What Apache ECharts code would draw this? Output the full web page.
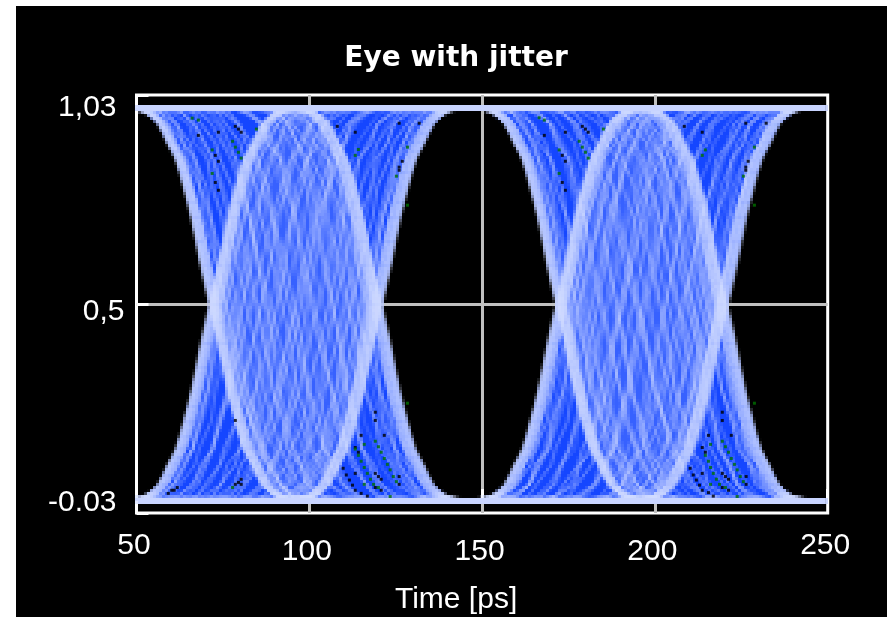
<!DOCTYPE html>
<html><head><meta charset="utf-8">
<style>html,body{margin:0;padding:0;background:#fff;overflow:hidden}
.layer{position:absolute;left:0;top:0;width:887px;height:617px}
#marks{width:888px;height:618px}
#marks canvas{image-rendering:pixelated !important}</style>
<script src="https://cdn.jsdelivr.net/npm/echarts@6/dist/echarts.min.js"></script>
</head><body>
<div id="base" class="layer"></div><div id="marks" class="layer"></div><div id="cells" class="layer"></div>
<script>
const titleText = 'Eye with jitter';
const xName = 'Time [ps]';
const xTicks = [50, 100, 150, 200, 250];
const yTicks = [-0.033, 0.5, 1.033];
const yLabels = ['-0.03', '0,5', '1,03'];

// edge shapes: time from the crossing (ps) for each level
const edgeTime = [-24.6,-19.1,-15,-12.2,-9.8,-7.5,-5.2,-2.5,0,2.5,5.2,7.5,9.8,12.2,15,19.1,24.6];
const edgeTimeNarrow = [-20.5,-16,-12.8,-10.4,-8.4,-6.4,-4.4,-2.1,0,2.1,4.4,6.4,8.4,10.4,12.8,16,20.5];
const edgeTimeWide = [-26,-21,-17,-14,-11.4,-8.8,-6,-2.9,0,2.9,6,8.8,11.4,14,17,21,26];
const edgeTimeNoisyA = [-25,-18.2,-15.8,-11.6,-10.4,-6.9,-5.6,-2.0,0.4,2.9,4.8,8.0,9.3,12.8,14.4,19.8,24];
const edgeTimeNoisyB = [-23.5,-19.9,-14.4,-12.9,-9.1,-8.0,-4.7,-3.0,-0.3,2.1,5.7,7.0,10.4,11.6,15.6,18.4,25.2];
const fallLevel = [1,0.99,0.96,0.91,0.87,0.8,0.72,0.6,0.5,0.4,0.28,0.2,0.13,0.09,0.04,0.01,0];
const riseLevel = [0,0.01,0.04,0.09,0.13,0.2,0.28,0.4,0.5,0.6,0.72,0.8,0.87,0.91,0.96,0.99,1];
const shapeOrder = [3,1,4,0,2,3,1,4,2,3,0,4];
const traceWeight = [0.9,0.55,0.8,1,0.45,0.7,0.95,0.6,1];

// estimated crossing times of the visible traces (ps)
const fallA = [71.2,71.5,71.8,72.2,72.5,72.9,73.3,73.8,74.4,75.1,75.9,76.4,77.1,78.9,79.6,81.8,83.9,84.5,87.2,88.0,88.7,91.6,93.9,94.4,95.1,98.2,100.7,101.4,103.9,106.1,106.8,108.9,110.6,111.1,113.2,114.4,115.7,116.3,117.1,117.7,118.2,118.7,119.2,119.6,120.0,120.4,120.8];
const riseA = [71.3,71.6,72.0,72.3,72.7,73.1,73.6,74.1,74.7,75.3,76.0,77.9,78.5,80.6,81.3,83.2,85.7,86.3,89.1,90.2,90.9,93.0,95.9,96.6,97.4,99.6,102.3,102.9,105.2,107.4,108.1,109.9,112.0,112.7,114.9,115.3,116.2,116.9,117.6,118.0,118.4,118.9,119.4,119.8,120.2,120.6,121.0];
const fallB = [171.5,171.8,172.1,172.5,172.8,173.2,173.6,174.1,174.7,175.4,176.2,176.7,177.5,179.2,180.0,182.1,184.3,184.8,187.5,188.3,189.0,191.9,194.2,194.7,195.4,198.5,201.0,201.7,204.2,206.4,207.1,209.2,210.9,211.4,213.4,214.6,215.9,216.3,217.0,217.6,218.2,218.7,219.2,219.6,220.0,220.4,220.8];
const riseB = [171.6,171.9,172.3,172.6,173.0,173.4,173.9,174.4,175.0,175.7,176.3,178.2,178.8,180.9,181.6,183.5,186.0,186.6,189.4,190.5,191.2,193.3,196.2,196.9,197.7,199.9,202.6,203.2,205.5,207.7,208.4,210.2,212.2,212.9,215.1,215.5,216.4,217.1,217.8,218.1,218.5,218.9,219.4,219.8,220.2,220.6,221.1];

// isolated low-count cells of the histogram [time ps, level]
const blackCells = [[78.6,.953],[79.5,.946],[80.3,.938],[73.7,.938],[67.9,.930],[72.8,.879],[73.7,.864],[72.8,.810],[73.7,.790],
[78.6,.203],[59.2,.017],[60.2,.025],[60.9,.025],[61.8,.032],[80.3,.053],[79.5,.045],[78.6,.040],[80.3,.040],
[168.0,.930],[174.1,.938],[179.0,.953],[179.9,.946],[180.7,.938],[173.2,.879],[174.1,.864],[173.2,.810],[174.1,.790],[208.5,.953],[213.7,.938],[226.3,.961],[232.2,.961],[227,.864],[226.3,.849],[226.3,.841],
[210.2,.081],[211.1,.064],[212,.051],[212.9,.038],[213.7,.025],[215.5,.019],[216.9,.010],[215.5,.165],[213.7,.134],[214.6,.122],[219.5,.224],[219.5,.203],[222.1,.165],[213.7,.068],[219.5,.068],[220.4,.060],[221.3,.053],[219.5,.032],[221.3,.025],[226.4,.060],[226.4,.040],
[119.1,.224],[119.1,.203],[115,.165],[121.7,.165],[113.3,.134],[114.2,.122],[109.8,.081],[110.7,.064],[111.6,.051],[112.5,.038],[113.3,.025],[115,.017],[116.8,.010],[113.3,.068],[119.1,.068],[120,.060],[120.8,.053],[119.1,.032],[120.8,.025],[126,.060],[126,.040],
[108.1,.953],[113.3,.938],[126,.961],[131.8,.961],[126.9,.864],[126,.849],[126,.841]];
const greenCells = [[66.1,.974],[67.9,.969],[84.7,.946],[77.8,.915],[78.6,.900],[79.5,.887],[80.3,.872],[71.9,.893],[71.9,.833],[77.8,.032],
[166.5,.975],[168,.969],[185.1,.946],[178.1,.915],[179,.900],[179.9,.887],[180.7,.872],[172.3,.893],[172.3,.833],[214.6,.893],[213.7,.879],[228.8,.900],[225.6,.826],[228.8,.752],
[228.8,.247],[216.1,.142],[219.5,.150],[220.4,.136],[221.3,.122],[222.1,.106],[223,.091],[223.8,.077],[224.7,.060],[225.6,.047],[215.5,.099],[214.6,.114],[216.1,.083],[216.9,.068],[217.8,.053],[218.7,.040],[220.4,.032],[216.1,.040],[223.8,.009],
[128.4,.247],[115.9,.142],[119.1,.150],[120,.136],[120.8,.122],[121.7,.106],[122.6,.091],[123.4,.077],[124.3,.060],[125.2,.047],[113.3,.130],[114.2,.114],[115,.099],[115.9,.083],[116.8,.068],[117.7,.053],[118.6,.040],[120,.032],[115.9,.040],[123.4,.009],
[114.2,.894],[113.3,.879],[128.4,.900],[125.2,.826],[128.4,.752]];
const restLevels = [1, -0.003];

const FONT = '"Liberation Sans", Arial, sans-serif';
const shapes = [edgeTime, edgeTimeNarrow, edgeTimeWide, edgeTimeNoisyA, edgeTimeNoisyB];
const edge = (cross, levels, times) => (times || edgeTime).map((d, i) => [cross + d, levels[i]]);
const label = { color: '#fff', fontFamily: FONT, fontSize: 30 };
const last = a => a[a.length - 1];

const groups = [[fallA, fallLevel], [riseA, riseLevel], [fallB, fallLevel], [riseB, riseLevel]];
// outlines of the two dense lens-shaped areas, from the first and last traces of each group
const lensOutline = (fall, rise) => [
  ...edge(rise[0], riseLevel).slice(8),
  ...edge(last(fall), fallLevel).slice(0, 9),
  ...edge(last(rise), riseLevel).slice(0, 9).reverse(),
  ...edge(fall[0], fallLevel).slice(8).reverse()
];
const polygons = [
  ...groups.map(g => ({ points: edge(g[0][0], g[1]).concat(edge(last(g[0]), g[1]).reverse()), fill: '#1546ff', opacity: 1 })),
  { points: lensOutline(fallA, riseA), fill: '#d2dcff', opacity: 0.18 },
  { points: lensOutline(fallB, riseB), fill: '#d2dcff', opacity: 0.18 }
];
const traceSeries = [{
  type: 'custom', name: 'underlay', z: 2, clip: true, silent: true,
  coordinateSystem: 'cartesian2d',
  data: polygons.map((p, i) => [i]),
  renderItem(params, api) {
    const p = polygons[api.value(0)];
    return { type: 'polygon', shape: { points: p.points.map(q => api.coord(q)) }, style: { fill: p.fill, opacity: p.opacity } };
  }
}];
groups.forEach((g, k) => g[0].forEach((c, i) => {
  const n = g[0].length;
  const outer = i < 8 || i >= n - 8;
  traceSeries.push({
    type: 'line', silent: true, z: outer ? 4 : 3, symbol: 'none', smooth: outer ? 0.35 : false,
    data: edge(c, g[1], outer ? edgeTime : shapes[shapeOrder[(i + k * 5) % shapeOrder.length]]),
    lineStyle: { color: '#d2dcff', width: outer ? 2.2 : 1.3, opacity: outer ? 0.8 : traceWeight[(i + k * 2) % traceWeight.length] }
  });
}));
restLevels.forEach(v => traceSeries.push({
  type: 'line', silent: true, z: 5, symbol: 'none',
  data: [[xTicks[0], v], [xTicks[4], v]],
  lineStyle: { color: '#c8d4ff', width: 6 }
}));

const hiddenAxes = (right, bottom) => ({
  animation: false, backgroundColor: 'transparent',
  grid: { left: 136.5, right, top: 95, bottom, outerBoundsMode: 'none' },
  xAxis: { type: 'value', min: 50, max: 250, show: false },
  yAxis: { type: 'value', min: yTicks[0], max: yTicks[2], show: false }
});

// layer 1: frame, grid lines and all text
echarts.init(document.getElementById('base')).setOption({
  animation: false,
  backgroundColor: '#fff',
  graphic: [{ type: 'rect', z: -10, shape: { x: 16, y: 6, width: 871, height: 611 }, style: { fill: '#000' } }],
  title: { text: titleText, left: 451, top: 40, textAlign: 'center', textStyle: { color: '#fff', fontFamily: '"DejaVu Sans", sans-serif', fontWeight: 'bold', fontSize: 28 } },
  grid: { left: 136.5, right: 59.3, top: 95, bottom: 104, outerBoundsMode: 'none', show: true, backgroundColor: 'transparent', borderColor: '#fff', borderWidth: 3 },
  xAxis: {
    type: 'value', min: 50, max: 250, interval: 50,
    name: xName, nameLocation: 'middle', nameGap: 72,
    nameTextStyle: { ...label, padding: [0, 52, 0, 0] },
    axisLine: { show: false },
    axisTick: { show: true, inside: true, length: 11, lineStyle: { color: '#fff', width: 3 } },
    splitLine: { show: true, showMinLine: false, showMaxLine: false, lineStyle: { color: '#c0c0c0', width: 3 } },
    axisLabel: {
      ...label, margin: 18,
      formatter: v => (v === 50 || v === 250) ? '{a|' + v + '}' : '{b|' + v + '}',
      rich: { a: { ...label, padding: [0, 5, 0, 0] }, b: { ...label, padding: [6, 5, 0, 0] } }
    }
  },
  yAxis: {
    type: 'value', min: yTicks[0], max: yTicks[2],
    axisLine: { show: false },
    axisTick: { show: true, inside: true, length: 12, customValues: yTicks, lineStyle: { color: '#fff', width: 3 } },
    splitLine: { show: true, showMinLine: false, showMaxLine: false, lineStyle: { color: '#c0c0c0', width: 3 } },
    axisLabel: {
      customValues: yTicks, ...label, margin: 12,
      formatter: v => { const i = yTicks.indexOf(v); return '{s' + i + '|' + yLabels[i] + '}'; },
      rich: {
        s0: { ...label, padding: [0, 8, 20, 0] },
        s1: { ...label, padding: [16, 0, 0, 0] },
        s2: { ...label, padding: [25, 8, 0, 0] }
      }
    }
  },
  series: []
});

// layer 2: the traces, rasterised on a coarse 3 px grid like the original histogram
echarts.init(document.getElementById('marks'), null, { devicePixelRatio: 1 / 3 }).setOption({
  ...hiddenAxes(60.3, 105),
  series: traceSeries
});

// layer 3: isolated cells
echarts.init(document.getElementById('cells')).setOption({
  ...hiddenAxes(59.3, 104),
  series: [
    { type: 'scatter', silent: true, symbol: 'rect', symbolSize: 3, itemStyle: { color: '#000' }, data: blackCells },
    { type: 'scatter', silent: true, symbol: 'rect', symbolSize: 3, itemStyle: { color: '#007000' }, data: greenCells }
  ]
});
</script></body></html>
